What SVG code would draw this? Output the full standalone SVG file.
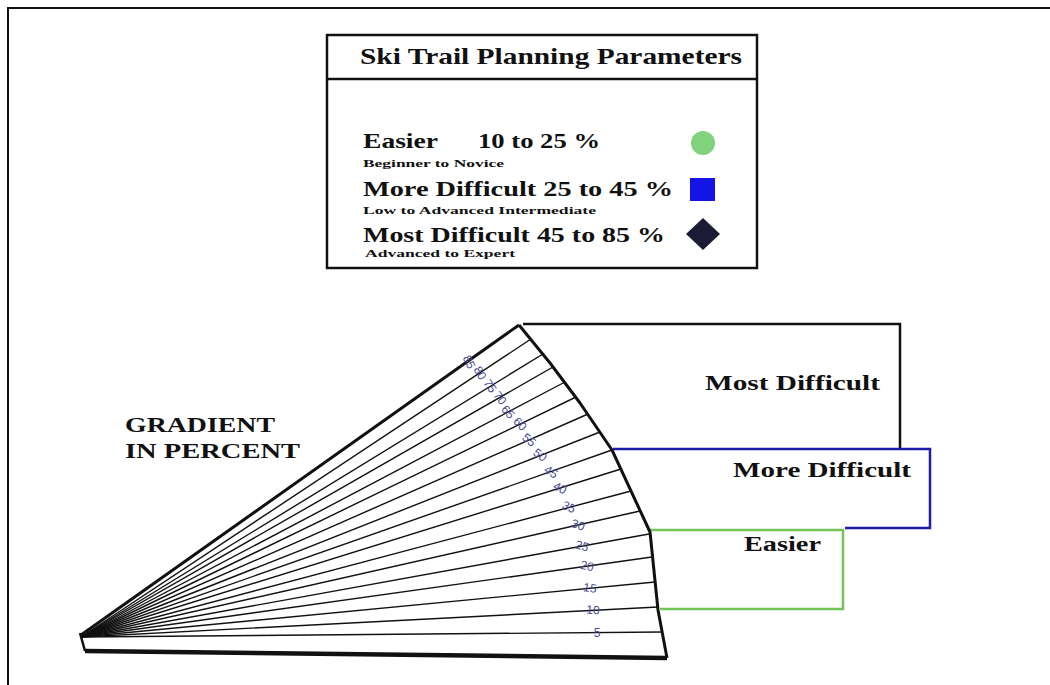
<svg xmlns="http://www.w3.org/2000/svg" width="1050" height="685" viewBox="0 0 1050 685">
<style>
.serif{font-family:"Liberation Serif","Times New Roman",serif;font-weight:bold;fill:#111}
.num{font-family:"Liberation Sans",Arial,sans-serif;font-size:12px;fill:#4a4a96}
.ray{stroke:#111;stroke-width:1.4;fill:none}
</style>
<rect width="1050" height="685" fill="#ffffff"/>
<rect id="frame" x="8" y="8" width="1100" height="700" fill="none" stroke="#111" stroke-width="2"/>

<g id="legend">
<rect x="327" y="35" width="430" height="233" fill="#fff" stroke="#111" stroke-width="2.5"/>
<line x1="327" y1="79" x2="757" y2="79" stroke="#111" stroke-width="2.5"/>
<text class="serif" x="360" y="64" font-size="23" textLength="382" lengthAdjust="spacingAndGlyphs">Ski Trail Planning Parameters</text>
<text class="serif" x="363" y="148" font-size="22" textLength="75" lengthAdjust="spacingAndGlyphs">Easier</text>
<text class="serif" x="478" y="148" font-size="22" textLength="122" lengthAdjust="spacingAndGlyphs">10 to 25 %</text>
<text class="serif" x="363" y="167" font-size="11" textLength="141" lengthAdjust="spacingAndGlyphs">Beginner to Novice</text>
<text class="serif" x="363" y="196" font-size="22" textLength="310" lengthAdjust="spacingAndGlyphs">More Difficult 25 to 45 %</text>
<text class="serif" x="363" y="214" font-size="11" textLength="233" lengthAdjust="spacingAndGlyphs">Low to Advanced Intermediate</text>
<text class="serif" x="363" y="242" font-size="22" textLength="302" lengthAdjust="spacingAndGlyphs">Most Difficult 45 to 85 %</text>
<text class="serif" x="365" y="257" font-size="11" textLength="150" lengthAdjust="spacingAndGlyphs">Advanced to Expert</text>
<circle cx="703" cy="143" r="12" fill="#80d27c"/>
<rect x="690" y="178" width="25" height="23" fill="#1414e6"/>
<polygon points="703,218 720,234 703,250 686,234" fill="#1b1b35"/>
</g>

<g id="gradient-label">
<text class="serif" x="125" y="432" font-size="21" textLength="150" lengthAdjust="spacingAndGlyphs">GRADIENT</text>
<text class="serif" x="125" y="458" font-size="21" textLength="175" lengthAdjust="spacingAndGlyphs">IN PERCENT</text>
</g>

<g id="box-most">
<polyline points="523,324 900,324 900,449" fill="none" stroke="#111" stroke-width="2.5"/>
<text class="serif" x="705" y="390" font-size="22" textLength="175" lengthAdjust="spacingAndGlyphs">Most Difficult</text>
</g>
<g id="box-more">
<polyline points="613,449 930,449 930,528 845,528" fill="none" stroke="#1c1ca8" stroke-width="2.5"/>
<text class="serif" x="733" y="477" font-size="22" textLength="178" lengthAdjust="spacingAndGlyphs">More Difficult</text>
</g>
<g id="box-easier">
<polyline points="650,530 843,530 843,609 660,609" fill="none" stroke="#74c25a" stroke-width="2.5"/>
<text class="serif" x="744" y="551" font-size="22" textLength="77" lengthAdjust="spacingAndGlyphs">Easier</text>
</g>

<g id="fan">
<g class="ray">
<line x1="81" y1="637" x2="662" y2="632"/>
<line x1="81" y1="637" x2="658" y2="607"/>
<line x1="81" y1="637" x2="655" y2="582"/>
<line x1="81" y1="637" x2="652" y2="557"/>
<line x1="81" y1="637" x2="649" y2="534"/>
<line x1="81" y1="637" x2="640" y2="511"/>
<line x1="81" y1="637" x2="631" y2="491"/>
<line x1="81" y1="637" x2="621" y2="469"/>
<line x1="81" y1="637" x2="612" y2="450"/>
<line x1="81" y1="637" x2="600" y2="432"/>
<line x1="81" y1="637" x2="588" y2="414"/>
<line x1="81" y1="637" x2="576" y2="397"/>
<line x1="81" y1="637" x2="565" y2="382"/>
<line x1="81" y1="637" x2="553" y2="367"/>
<line x1="81" y1="637" x2="543" y2="354"/>
<line x1="81" y1="637" x2="531" y2="339"/>
</g>
<line x1="81" y1="635" x2="519" y2="325" stroke="#111" stroke-width="3"/>
<line x1="85" y1="651" x2="667" y2="658" stroke="#111" stroke-width="4.5"/>
<line x1="80" y1="633" x2="85" y2="651" stroke="#111" stroke-width="2.5"/>
<polyline points="519,325 550,363 580,403 612,450 650,532 658,610 667,658" fill="none" stroke="#111" stroke-width="3" stroke-linejoin="round"/>
<g class="num" text-anchor="middle" dominant-baseline="central">
<text transform="translate(597,633) rotate(0)">5</text>
<text transform="translate(593,610) rotate(4)">10</text>
<text transform="translate(590,588) rotate(8)">15</text>
<text transform="translate(587,566) rotate(12)">20</text>
<text transform="translate(582,546) rotate(16)">25</text>
<text transform="translate(578,525) rotate(20)">30</text>
<text transform="translate(569,507) rotate(24)">35</text>
<text transform="translate(560,488) rotate(28)">40</text>
<text transform="translate(551,472) rotate(32)">45</text>
<text transform="translate(540,455) rotate(36)">50</text>
<text transform="translate(529,440) rotate(40)">55</text>
<text transform="translate(520,424) rotate(44)">60</text>
<text transform="translate(508,412) rotate(48)">65</text>
<text transform="translate(500,398) rotate(52)">70</text>
<text transform="translate(490,386) rotate(56)">75</text>
<text transform="translate(480,373) rotate(60)">80</text>
<text transform="translate(469,362) rotate(64)">85</text>
</g>
</g>
</svg>
